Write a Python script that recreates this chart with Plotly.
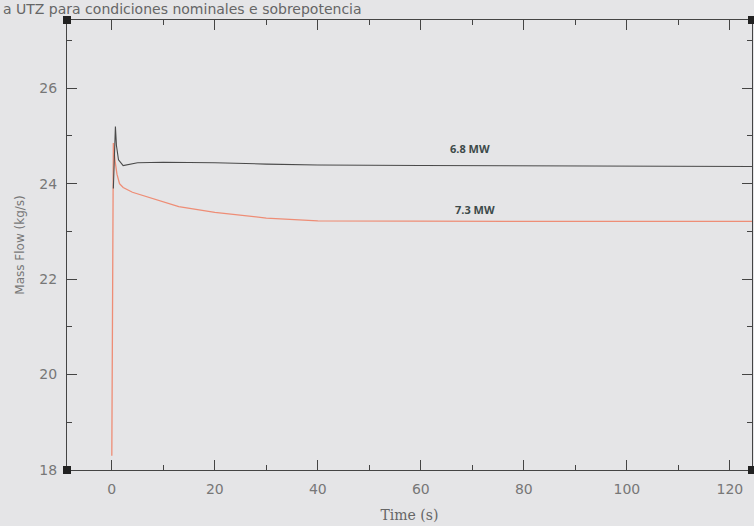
import plotly.graph_objects as go

# Data
t_68 = [0.3, 0.5, 0.7, 0.9, 1.3, 2.2, 3, 5, 10, 20, 30, 40, 60, 80, 100, 125]
m_68 = [23.9, 24.6, 25.2, 24.8, 24.5, 24.38, 24.4, 24.44, 24.45, 24.44, 24.41, 24.39, 24.38, 24.37, 24.37, 24.36]

t_73 = [0.0, 0.3, 0.6, 1.0, 1.5, 2.2, 4, 8, 13, 20, 30, 40, 60, 80, 100, 125]
m_73 = [18.3, 24.85, 24.5, 24.2, 24.0, 23.92, 23.82, 23.68, 23.52, 23.4, 23.28, 23.22, 23.21, 23.21, 23.21, 23.21]

series_labels = ["6.8 MW", "7.3 MW"]
label_pos_t = [69.5, 70.5]
label_pos_m = [24.74, 23.45]

x_ticks = [0, 20, 40, 60, 80, 100, 120]
y_ticks = [18, 20, 22, 24, 26]

bg = "#e5e5e7"
axc = "#444444"

fig = go.Figure()
fig.add_trace(go.Scatter(x=t_73, y=m_73, mode="lines",
                         line=dict(color="#ee8d76", width=1.3), showlegend=False))
fig.add_trace(go.Scatter(x=t_68, y=m_68, mode="lines",
                         line=dict(color="#4a4a4a", width=1.1), showlegend=False))

for lab, tx, my in zip(series_labels, label_pos_t, label_pos_m):
    fig.add_annotation(x=tx, y=my, text="<b>" + lab + "</b>", showarrow=False,
                       font=dict(family="Open Sans, sans-serif", size=11, color="#3d4a4a"))

fig.add_annotation(xref="paper", yref="paper", x=0, y=1, xshift=-66, yshift=11,
                   xanchor="left", yanchor="middle", showarrow=False,
                   text="a UTZ para condiciones nominales e sobrepotencia",
                   font=dict(family="DejaVu Sans, sans-serif", size=14, color="#666666"))

# corner squares
for px in (0, 1):
    for py in (0, 1):
        fig.add_shape(type="rect", xref="paper", yref="paper",
                      xsizemode="pixel", ysizemode="pixel",
                      xanchor=px, yanchor=py, x0=-4, x1=4, y0=-4, y1=4,
                      fillcolor="#222222", line=dict(width=0))

fig.update_layout(
    width=754, height=526,
    margin=dict(l=67, r=2, t=20, b=56),
    paper_bgcolor=bg, plot_bgcolor=bg,
    xaxis=dict(range=[-8.7, 124.3], tickvals=x_ticks, ticks="inside", ticklen=10, tickwidth=1.3,
               tickcolor=axc, showline=True, linecolor=axc, linewidth=1.2, mirror="ticks",
               showgrid=False, zeroline=False, ticklabelstandoff=6,
               minor=dict(dtick=10, tick0=0, ticks="inside", ticklen=5, tickwidth=1.2,
                          tickcolor=axc, showgrid=False),
               tickfont=dict(family="DejaVu Sans, sans-serif", size=14, color="#777777"),
               title=dict(text="Time (s)", standoff=14,
                          font=dict(family="DejaVu Serif, serif", size=14, color="#666666"))),
    yaxis=dict(range=[18.0, 27.43], tickvals=y_ticks, ticks="inside", ticklen=10, tickwidth=1.3,
               tickcolor=axc, showline=True, linecolor=axc, linewidth=1.2, mirror="ticks",
               showgrid=False, zeroline=False, ticklabelstandoff=6,
               minor=dict(dtick=1, tick0=0, ticks="inside", ticklen=5, tickwidth=1.2,
                          tickcolor=axc, showgrid=False),
               tickfont=dict(family="DejaVu Sans, sans-serif", size=14, color="#777777"),
               title=dict(text="Mass Flow (kg/s)", standoff=12,
                          font=dict(family="DejaVu Sans, sans-serif", size=12, color="#777777"))),
)

fig.write_html("out.html")
